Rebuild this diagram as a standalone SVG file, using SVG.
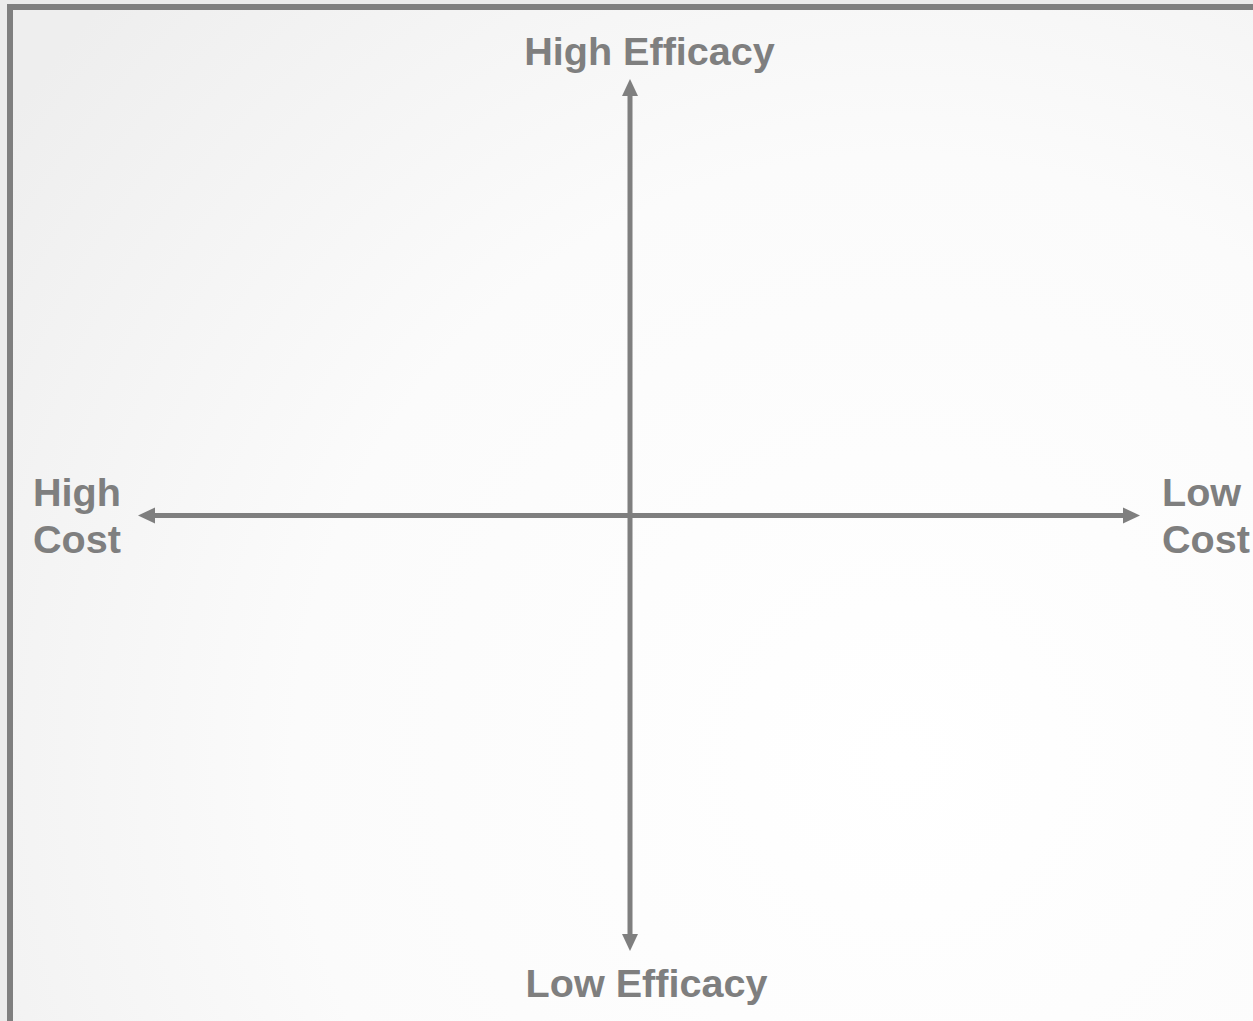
<svg xmlns="http://www.w3.org/2000/svg" width="1253" height="1021" viewBox="0 0 1253 1021">
  <style>
    .lbl { font-family: "Liberation Sans", Arial, sans-serif; font-weight: bold; font-size: 39.6px; fill: #7f7f7f; }
    .axis { stroke: #7f7f7f; stroke-width: 5; fill: none; }
  </style>
  <defs>
    <radialGradient id="bg" cx="900" cy="760" r="1100" gradientUnits="userSpaceOnUse">
      <stop offset="0" stop-color="#ffffff"/>
      <stop offset="0.55" stop-color="#fbfbfb"/>
      <stop offset="1" stop-color="#eeeeee"/>
    </radialGradient>
    <marker id="head" markerUnits="userSpaceOnUse" markerWidth="18" markerHeight="18"
            refX="0" refY="8" orient="auto-start-reverse" viewBox="0 0 18 16">
      <path d="M0,0 L17,8 L0,16 Z" fill="#7f7f7f"/>
    </marker>
  </defs>

  <!-- page background and frame -->
  <rect x="0" y="0" width="1253" height="1021" fill="#ebebeb"/>
  <rect x="10" y="7" width="1260" height="1030" fill="url(#bg)" stroke="#7f7f7f" stroke-width="6"/>

  <!-- axes -->
  <g id="connectors">
    <line id="axis-efficacy" class="axis" x1="630" y1="96" x2="630" y2="934" marker-start="url(#head)" marker-end="url(#head)"/>
    <line id="axis-cost" class="axis" x1="155" y1="515.5" x2="1123" y2="515.5" marker-start="url(#head)" marker-end="url(#head)"/>
  </g>

  <g id="high-efficacy">
    <text class="lbl" x="649.5" y="65" text-anchor="middle">High Efficacy</text>
  </g>
  <g id="low-efficacy">
    <text class="lbl" x="646.5" y="997" text-anchor="middle">Low Efficacy</text>
  </g>
  <g id="high-cost">
    <text class="lbl" x="33" y="506">High</text>
    <text class="lbl" x="33" y="553">Cost</text>
  </g>
  <g id="low-cost">
    <text class="lbl" x="1162" y="506">Low</text>
    <text class="lbl" x="1162" y="553">Cost</text>
  </g>
</svg>
